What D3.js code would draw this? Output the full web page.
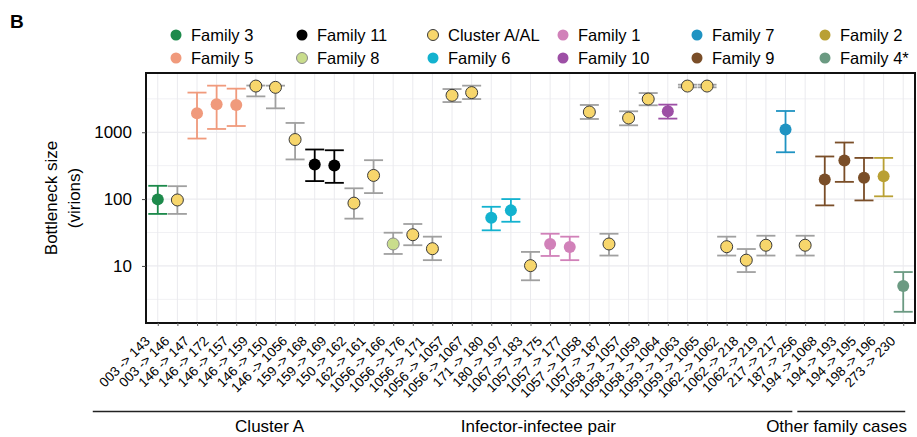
<!DOCTYPE html>
<html>
<head>
<meta charset="utf-8">
<script src="https://cdn.jsdelivr.net/npm/d3@7"></script>
<style>
  body { margin: 0; background: #fff; }
  text { font-family: "Liberation Sans", Arial, Helvetica, sans-serif; fill: #000; }
</style>
</head>
<body>
<script>
// infector -> infectee pairs, left to right
const srcIds = ["003","003","146","146","146","146","146","146","159","159","150","162",
    "1056","1056","1056","1056","1056","171","180","1067","1057","1057","1057","1057",
    "1058","1058","1058","1059","1059","1062","1062","1062","217","187","194","194","194","198","273"];
const dstIds = ["143","146","147","172","157","159","150","1056","168","169","162","161",
    "166","176","171","1057","1067","180","197","183","175","177","1058","187",
    "1057","1059","1064","1063","1065","1062","218","219","217","256","1068","193","195","196","230"];

const families = ["Family 3","Cluster A/AL","Family 5","Family 5","Family 5","Cluster A/AL","Cluster A/AL","Cluster A/AL",
    "Family 11","Family 11","Cluster A/AL","Cluster A/AL","Family 8","Cluster A/AL","Cluster A/AL","Cluster A/AL","Cluster A/AL",
    "Family 6","Family 6","Cluster A/AL","Family 1","Family 1","Cluster A/AL","Cluster A/AL","Cluster A/AL","Cluster A/AL",
    "Family 10","Cluster A/AL","Cluster A/AL","Cluster A/AL","Cluster A/AL","Cluster A/AL","Family 7","Cluster A/AL",
    "Family 9","Family 9","Family 9","Family 2","Family 4*"];

// bottleneck size estimate with lower / upper interval (virions)
const bnSize = [99,97,1920,2620,2560,4910,4700,778,330,318,87,226,21.3,29.3,18.1,3570,3920,52.6,67.8,10.1,21.3,19.2,
    2010,21.3,1635,3140,2060,4910,4910,19.4,12.2,20.4,1096,20.4,197,378,208,220,5.0];
const bnLow = [60,60,805,1120,1240,3440,2280,392,186,175,51,123,15.1,20.4,12.2,2830,3140,34.1,45.8,6.1,14.1,12.2,
    1580,14.3,1270,2530,1600,4700,4700,14.3,8.1,14.3,502,14.3,80.5,181,95.5,110,2.06];
const bnHigh = [158,156,3920,4980,4490,5000,4980,1378,552,538,145,382,31.4,42.4,27.4,4430,4980,76.7,100,16.2,30.3,27.4,
    2560,30.3,2060,3860,2590,5150,5150,27.4,17.9,28.3,2080,28.3,434,702,413,413,8.1];

const legendRows = [
    ["Family 3","Family 11","Cluster A/AL","Family 1","Family 7","Family 2"],
    ["Family 5","Family 8","Family 6","Family 10","Family 9","Family 4*"]
];
const yTicks = [10, 100, 1000];

const groups = [
    {name: "Cluster A", from: 0, to: 32, labelAt: 5.7},
    {name: "Infector-infectee pair", from: 0, to: 32, labelAt: 19.4},
    {name: "Other family cases", from: 33, to: 38, labelAt: 34.6}
];

const famColor = {
    "Family 3": "#1d8a4b", "Family 5": "#f09a7c", "Family 11": "#000000", "Family 8": "#c9dd8c",
    "Cluster A/AL": "#f7d66c", "Family 6": "#13b2cf", "Family 1": "#d181b9", "Family 10": "#9d4fa5",
    "Family 7": "#1f93c2", "Family 9": "#7a4e28", "Family 2": "#b9a034", "Family 4*": "#6b9a82"
};
const outlined = {"Cluster A/AL": "#3a3a3a", "Family 8": "#8a8a8a"};
const barColor = f => outlined[f] ? "#a0a0a0" : famColor[f];

const data = srcIds.map((s, i) => ({
    label: `${s} -> ${dstIds[i]}`, key: i, fam: families[i],
    v: bnSize[i], lo: bnLow[i], hi: bnHigh[i]
}));

const W = 917, H = 437;
const margin = {top: 73, right: 2, bottom: 114, left: 146};
const svg = d3.select("body").append("svg").attr("width", W).attr("height", H);

const x = d3.scalePoint()
    .domain(data.map(d => d.key))
    .range([margin.left, W - margin.right])
    .padding(0.6);
const y = d3.scaleLog()
    .domain([1.4, 7700])
    .range([H - margin.bottom, margin.top]);

// grid
const grid = svg.append("g");
const minor = yTicks.map(t => t / Math.sqrt(10)).concat([Math.sqrt(10) * 1000]);
grid.selectAll(".hmin").data(minor).join("line")
    .attr("x1", margin.left).attr("x2", W - margin.right)
    .attr("y1", d => y(d)).attr("y2", d => y(d))
    .attr("stroke", "#eeeef1").attr("stroke-width", 0.8);
grid.selectAll(".hmaj").data(yTicks).join("line")
    .attr("x1", margin.left).attr("x2", W - margin.right)
    .attr("y1", d => y(d)).attr("y2", d => y(d))
    .attr("stroke", "#e6e6eb").attr("stroke-width", 1);
grid.selectAll(".v").data(data).join("line")
    .attr("x1", d => x(d.key)).attr("x2", d => x(d.key))
    .attr("y1", margin.top).attr("y2", H - margin.bottom)
    .attr("stroke", "#eaeaee").attr("stroke-width", 1);

// error bars
const capW = 9.5;
const bars = svg.append("g").attr("stroke-width", 1.8).attr("fill", "none");
data.forEach(d => {
    const g = bars.append("g").attr("stroke", barColor(d.fam));
    const cx = x(d.key);
    g.append("line").attr("x1", cx).attr("x2", cx).attr("y1", y(d.lo)).attr("y2", y(d.hi));
    g.append("line").attr("x1", cx - capW).attr("x2", cx + capW).attr("y1", y(d.lo)).attr("y2", y(d.lo));
    g.append("line").attr("x1", cx - capW).attr("x2", cx + capW).attr("y1", y(d.hi)).attr("y2", y(d.hi));
});

// points
svg.append("g").selectAll("circle").data(data).join("circle")
    .attr("cx", d => x(d.key)).attr("cy", d => y(d.v)).attr("r", 6)
    .attr("fill", d => famColor[d.fam])
    .attr("stroke", d => outlined[d.fam] || "none")
    .attr("stroke-width", 1);

// frame
svg.append("rect")
    .attr("x", margin.left).attr("y", margin.top)
    .attr("width", W - margin.right - margin.left).attr("height", H - margin.bottom - margin.top)
    .attr("fill", "none").attr("stroke", "#111").attr("stroke-width", 2);

// y axis
const yAxis = svg.append("g")
    .attr("transform", `translate(${margin.left},0)`)
    .call(d3.axisLeft(y).tickValues(yTicks).tickFormat(d3.format("d")).tickSize(4).tickPadding(10));
yAxis.select(".domain").remove();
yAxis.selectAll(".tick line").attr("stroke", "#444");
yAxis.selectAll("text").style("font-size", "17px").style("font-family", "Liberation Sans, Arial, sans-serif").attr("fill", "#000");

svg.append("text")
    .attr("transform", `translate(57,${(margin.top + H - margin.bottom) / 2}) rotate(-90)`)
    .attr("text-anchor", "middle").style("font-size", "17px")
    .text("Bottleneck size");
svg.append("text")
    .attr("transform", `translate(80,${(margin.top + H - margin.bottom) / 2}) rotate(-90)`)
    .attr("text-anchor", "middle").style("font-size", "17px")
    .text("(virions)");

// x axis
const xAxis = svg.append("g")
    .attr("transform", `translate(0,${H - margin.bottom})`)
    .call(d3.axisBottom(x).tickSize(3).tickFormat(() => ""));
xAxis.select(".domain").remove();
xAxis.selectAll(".tick line").attr("stroke", "#666");
svg.append("g").selectAll("text").data(data).join("text")
    .attr("transform", d => `translate(${x(d.key) - 7},${H - margin.bottom + 19}) rotate(-45)`)
    .attr("text-anchor", "end")
    .style("font-size", "13.5px")
    .text(d => d.label);

// group brackets
const step = x.step();
const lineY = 411.5;
svg.append("line")
    .attr("x1", x(groups[0].from) - 65).attr("x2", x(groups[0].to) + step / 2 - 3)
    .attr("y1", lineY).attr("y2", lineY).attr("stroke", "#222").attr("stroke-width", 1.5);
svg.append("line")
    .attr("x1", x(groups[2].from) - step / 2 + 2).attr("x2", x(groups[2].to) + 2)
    .attr("y1", lineY).attr("y2", lineY).attr("stroke", "#222").attr("stroke-width", 1.5);
svg.append("g").selectAll("text").data(groups).join("text")
    .attr("x", d => x(0) + d.labelAt * step).attr("y", 432)
    .attr("text-anchor", "middle").style("font-size", "17px")
    .text(d => d.name);

// panel tag
svg.append("text").attr("x", 10).attr("y", 28)
    .style("font-size", "19px").style("font-weight", "bold").text("B");

// legend
const colX = [176, 302, 433, 563, 697, 825];
const legend = svg.append("g");
legendRows.forEach((row, r) => {
    const cy = 35 + r * 23;
    row.forEach((f, c) => {
        legend.append("circle").attr("cx", colX[c]).attr("cy", cy).attr("r", 5.5)
            .attr("fill", famColor[f]).attr("stroke", outlined[f] || "none").attr("stroke-width", 1);
        legend.append("text").attr("x", colX[c] + 15).attr("y", cy + 6)
            .style("font-size", "16.5px").text(f);
    });
});
</script>
</body>
</html>
